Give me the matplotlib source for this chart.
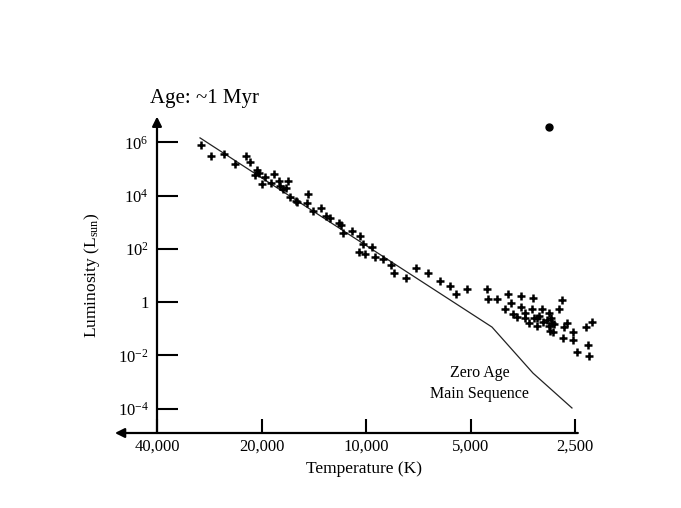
import numpy as np
import matplotlib
matplotlib.use("Agg")
import matplotlib.pyplot as plt

plt.rcParams['font.family'] = ['Liberation Serif', 'DejaVu Serif']
plt.rcParams['mathtext.fontset'] = 'custom'
plt.rcParams['mathtext.rm'] = 'Liberation Serif'
plt.rcParams['mathtext.it'] = 'Liberation Serif:italic'

# Star temperatures (K) and log10 luminosity (L_sun)
star_temp = [29880, 27960, 25640, 23830, 22150, 21590, 20600, 20870, 20340, 19930,
             19550, 18790, 18410, 17810, 17690, 17330, 16750, 16990, 16540, 15910,
             15800, 14700, 14790, 14210, 13470, 13030, 12680, 11950, 11790, 11640,
             10960, 10390, 10200, 10460, 10070, 9610, 9420, 8950, 8480, 8300,
             7670, 7170, 6630, 6120, 5730, 5510, 5120, 4480, 4450, 4190,
             3900, 3820, 3980, 3770, 3670, 3570, 3570, 3480, 3480, 3390,
             3300, 3330, 3280, 3220, 3170, 3220, 3110, 3090, 3010, 2970,
             2930, 2970, 2910, 2870, 2950, 2890, 2720, 2780, 2690, 2640,
             2700, 2530, 2530, 2330, 2240, 2300, 2470, 2280]
star_logL = [5.90, 5.49, 5.56, 5.19, 5.49, 5.26, 4.96, 4.77, 4.85, 4.44,
             4.70, 4.47, 4.81, 4.55, 4.36, 4.25, 4.55, 4.29, 3.95, 3.80,
             3.76, 4.06, 3.72, 3.42, 3.53, 3.23, 3.16, 2.97, 2.89, 2.59,
             2.67, 2.48, 2.18, 1.88, 1.80, 2.07, 1.69, 1.62, 1.39, 1.09,
             0.90, 1.28, 1.09, 0.79, 0.60, 0.30, 0.49, 0.49, 0.11, 0.11,
             0.30, -0.04, -0.26, -0.45, -0.56, 0.23, -0.19, -0.41, -0.60, -0.79,
             0.15, -0.26, -0.60, -0.60, -0.53, -0.90, -0.26, -0.75, -0.68, -0.41,
             -0.60, -0.90, -0.79, -0.83, -1.09, -1.13, 0.08, -0.26, -0.94, -0.79,
             -1.35, -1.13, -1.43, -0.94, -0.75, -1.62, -1.88, -2.03]

# Bright outlier
outlier_temp = [2970]
outlier_logL = [6.58]

# Zero age main sequence
zams_temp = [30070, 4335, 3303, 2551]
zams_logL = [6.17, -0.94, -2.67, -3.98]

xticks = [40000, 20000, 10000, 5000, 2500]
xticklabels = ['40,000', '20,000', '10,000', '5,000', '2,500']
yticks_log = [6, 4, 2, 0, -2, -4]
yticklabels = ['10$^{6}$', '10$^{4}$', '10$^{2}$', '1', '10$^{-2}$', '10$^{-4}$']

W, H = 681, 508
fig = plt.figure(figsize=(W / 100, H / 100), dpi=100)
x0, x1, y0, y1 = 157, 600, 433, 115
ax = fig.add_axes([x0 / W, 1 - y0 / H, (x1 - x0) / W, (y0 - y1) / H])
ax.set_xscale('log')
ax.set_yscale('log')
ax.set_xlim(40000, 2118)
ax.set_ylim(10 ** -4.92, 10 ** 7.03)
for s in ax.spines.values():
    s.set_visible(False)

ax.plot(zams_temp, [10 ** v for v in zams_logL], color='#222222', lw=0.9)
ax.plot(star_temp, [10 ** v for v in star_logL], linestyle='none', marker='+',
        ms=6, mew=1.8, color='black', clip_on=False)
ax.plot(outlier_temp, [10 ** v for v in outlier_logL], linestyle='none', marker='o',
        ms=5, color='black', clip_on=False)

ax.set_xticks(xticks)
ax.set_xticklabels(xticklabels)
ax.set_yticks([10.0 ** v for v in yticks_log])
ax.set_yticklabels(yticklabels)
ax.minorticks_off()
ax.tick_params(axis='x', direction='in', length=10, width=1.5, pad=4, labelsize=12)
ax.tick_params(axis='y', direction='in', length=15, width=1.5, pad=6, labelsize=12)

# axis lines with arrows
ax.annotate('', xy=(-0.095, 0), xytext=(0.95, 0), xycoords='axes fraction',
            textcoords='axes fraction',
            arrowprops=dict(arrowstyle='-|>', color='black', lw=1.6, mutation_scale=14,
                            shrinkA=0, shrinkB=0), annotation_clip=False)
ax.annotate('', xy=(0, 0.995), xytext=(0, 0), xycoords='axes fraction',
            textcoords='axes fraction',
            arrowprops=dict(arrowstyle='-|>', color='black', lw=1.6, mutation_scale=14,
                            shrinkA=0, shrinkB=0), annotation_clip=False)

ax.set_xlabel('Temperature (K)', fontsize=12.5)
ax.xaxis.set_label_coords((364 - x0) / (x1 - x0), -(461 - y0) / (y0 - y1))
ax.set_ylabel('Luminosity (L$_{\\mathrm{sun}}$)', fontsize=12.5)
ax.yaxis.set_label_coords(-(x0 - 102) / (x1 - x0), (y0 - 275) / (y0 - y1))

ax.text(4700, 10 ** -2.65, 'Zero Age', ha='center', va='center', fontsize=11.5)
ax.text(4700, 10 ** -3.45, 'Main Sequence', ha='center', va='center', fontsize=11.5)

fig.text(150 / W, 1 - 98 / H, 'Age: ~1 Myr', fontsize=15, ha='left', va='center')

fig.savefig('out.png', dpi=100)
